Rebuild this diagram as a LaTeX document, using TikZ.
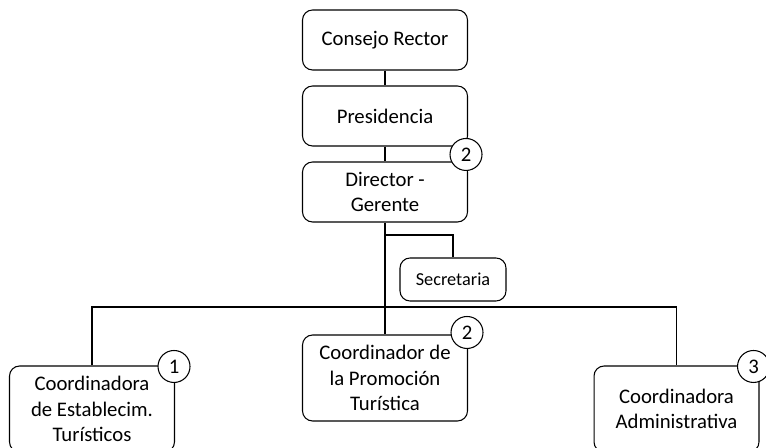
\documentclass[tikz,border=0pt]{standalone}
\usepackage{fontspec}
\setmainfont{Carlito}
\usetikzlibrary{positioning}

\begin{document}
\begin{tikzpicture}[x=0.02cm, y=-0.02cm, line width=0.6pt,
    font=\fontsize{11.8}{14.5}\selectfont,
    box/.style={draw, rounded corners=0.2cm, fill=white, align=center,
      minimum width=3.3cm, minimum height=1.2cm, inner sep=2pt},
    tallbox/.style={box, minimum height=1.72cm},
    smallbox/.style={box, minimum width=2.12cm, minimum height=0.86cm,
      font=\fontsize{10.4}{12.5}\selectfont},
    badge/.style={draw, circle, fill=white, minimum size=0.64cm, inner sep=0pt}]
  \useasboundingbox (0,0) rectangle (766,448);
  \clip (0,0) rectangle (766,448);

  % Upper chain
  \node[box] (rector) at (385,40) {Consejo Rector};
  \node[box] (presid) at (385,116) {Presidencia};
  \node[box] (gerente) at (385,192) {Director -\\Gerente};
  \node[smallbox] (secret) at (453,279.5) {Secretaria};

  % Coordinations
  \node[tallbox] (estab) at (92,409) {Coordinadora\\de Establecim.\\Turísticos};
  \node[tallbox] (promo) at (385,378) {Coordinador de\\la Promoción\\Turística};
  \node[tallbox] (admin) at (676.5,409) {Coordinadora\\Administrativa};

  % Links
  \coordinate (tap) at (385,235);
  \coordinate (bus) at (385,307);
  \draw (rector) -- (presid);
  \draw (presid) -- (gerente);
  \draw (gerente) -- (bus);
  \draw (tap) -| (secret);
  \draw (estab) |- (bus) -| (admin);
  \draw (bus) -- (promo);

  % Numbered badges
  \node[badge] (numgerente) at ([shift={(-2,-7)}]gerente.north east) {2};
  \node[badge] (numestab) at ([shift={(-1,1)}]estab.north east) {1};
  \node[badge] (numpromo) at ([shift={(-1,-2)}]promo.north east) {2};
  \node[badge] (numadmin) at ([shift={(-6,1)}]admin.north east) {3};
\end{tikzpicture}
\end{document}
